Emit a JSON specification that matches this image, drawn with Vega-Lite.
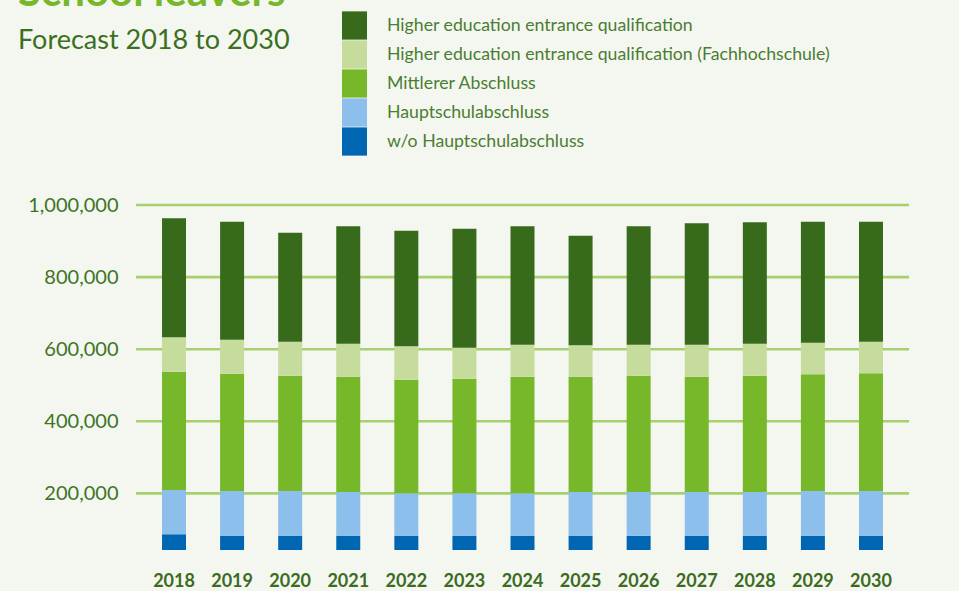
{
  "$schema": "https://vega.github.io/schema/vega-lite/v6.json",
  "autosize": {"type": "none"},
  "width": 773,
  "height": 345,
  "padding": {"left": 136, "top": 205, "right": 50, "bottom": 41},
  "background": "#f4f7ef",
  "config": {"view": {"stroke": null}, "font": "Lato"},
  "title": {
    "text": "School leavers",
    "subtitle": "Forecast 2018 to 2030",
    "anchor": "start",
    "frame": "group",
    "dx": -118,
    "dy": 42,
    "offset": 0,
    "fontSize": 42,
    "fontWeight": "bold",
    "color": "#76b82a",
    "subtitleFontSize": 27,
    "subtitleColor": "#3b6f21",
    "subtitlePadding": 13
  },
  "datasets": {
    "grid": [
      {"tick": 200000}, {"tick": 400000}, {"tick": 600000}, {"tick": 800000}, {"tick": 1000000}
    ],
    "leavers": [
      {"year": "2018", "type": "w/o Hauptschulabschluss", "value": 43500},
      {"year": "2018", "type": "Hauptschulabschluss", "value": 122900},
      {"year": "2018", "type": "Mittlerer Abschluss", "value": 328200},
      {"year": "2018", "type": "Higher education entrance qualification (Fachhochschule)", "value": 95400},
      {"year": "2018", "type": "Higher education entrance qualification", "value": 330100},
      {"year": "2019", "type": "w/o Hauptschulabschluss", "value": 39700},
      {"year": "2019", "type": "Hauptschulabschluss", "value": 124000},
      {"year": "2019", "type": "Mittlerer Abschluss", "value": 325400},
      {"year": "2019", "type": "Higher education entrance qualification (Fachhochschule)", "value": 94300},
      {"year": "2019", "type": "Higher education entrance qualification", "value": 327300},
      {"year": "2020", "type": "w/o Hauptschulabschluss", "value": 39700},
      {"year": "2020", "type": "Hauptschulabschluss", "value": 124000},
      {"year": "2020", "type": "Mittlerer Abschluss", "value": 319800},
      {"year": "2020", "type": "Higher education entrance qualification (Fachhochschule)", "value": 94300},
      {"year": "2020", "type": "Higher education entrance qualification", "value": 302400},
      {"year": "2021", "type": "w/o Hauptschulabschluss", "value": 39700},
      {"year": "2021", "type": "Hauptschulabschluss", "value": 121200},
      {"year": "2021", "type": "Mittlerer Abschluss", "value": 319800},
      {"year": "2021", "type": "Higher education entrance qualification (Fachhochschule)", "value": 91500},
      {"year": "2021", "type": "Higher education entrance qualification", "value": 325700},
      {"year": "2022", "type": "w/o Hauptschulabschluss", "value": 39700},
      {"year": "2022", "type": "Hauptschulabschluss", "value": 117600},
      {"year": "2022", "type": "Mittlerer Abschluss", "value": 315100},
      {"year": "2022", "type": "Higher education entrance qualification (Fachhochschule)", "value": 92600},
      {"year": "2022", "type": "Higher education entrance qualification", "value": 320700},
      {"year": "2023", "type": "w/o Hauptschulabschluss", "value": 39700},
      {"year": "2023", "type": "Hauptschulabschluss", "value": 117600},
      {"year": "2023", "type": "Mittlerer Abschluss", "value": 317900},
      {"year": "2023", "type": "Higher education entrance qualification (Fachhochschule)", "value": 86000},
      {"year": "2023", "type": "Higher education entrance qualification", "value": 330100},
      {"year": "2024", "type": "w/o Hauptschulabschluss", "value": 39700},
      {"year": "2024", "type": "Hauptschulabschluss", "value": 117600},
      {"year": "2024", "type": "Mittlerer Abschluss", "value": 323400},
      {"year": "2024", "type": "Higher education entrance qualification (Fachhochschule)", "value": 88800},
      {"year": "2024", "type": "Higher education entrance qualification", "value": 328400},
      {"year": "2025", "type": "w/o Hauptschulabschluss", "value": 39700},
      {"year": "2025", "type": "Hauptschulabschluss", "value": 121200},
      {"year": "2025", "type": "Mittlerer Abschluss", "value": 319800},
      {"year": "2025", "type": "Higher education entrance qualification (Fachhochschule)", "value": 87100},
      {"year": "2025", "type": "Higher education entrance qualification", "value": 304000},
      {"year": "2026", "type": "w/o Hauptschulabschluss", "value": 39700},
      {"year": "2026", "type": "Hauptschulabschluss", "value": 121200},
      {"year": "2026", "type": "Mittlerer Abschluss", "value": 322600},
      {"year": "2026", "type": "Higher education entrance qualification (Fachhochschule)", "value": 86000},
      {"year": "2026", "type": "Higher education entrance qualification", "value": 328400},
      {"year": "2027", "type": "w/o Hauptschulabschluss", "value": 39700},
      {"year": "2027", "type": "Hauptschulabschluss", "value": 121200},
      {"year": "2027", "type": "Mittlerer Abschluss", "value": 319800},
      {"year": "2027", "type": "Higher education entrance qualification (Fachhochschule)", "value": 88800},
      {"year": "2027", "type": "Higher education entrance qualification", "value": 336800},
      {"year": "2028", "type": "w/o Hauptschulabschluss", "value": 39700},
      {"year": "2028", "type": "Hauptschulabschluss", "value": 121200},
      {"year": "2028", "type": "Mittlerer Abschluss", "value": 322600},
      {"year": "2028", "type": "Higher education entrance qualification (Fachhochschule)", "value": 88800},
      {"year": "2028", "type": "Higher education entrance qualification", "value": 336800},
      {"year": "2029", "type": "w/o Hauptschulabschluss", "value": 39700},
      {"year": "2029", "type": "Hauptschulabschluss", "value": 124000},
      {"year": "2029", "type": "Mittlerer Abschluss", "value": 323700},
      {"year": "2029", "type": "Higher education entrance qualification (Fachhochschule)", "value": 87700},
      {"year": "2029", "type": "Higher education entrance qualification", "value": 335600},
      {"year": "2030", "type": "w/o Hauptschulabschluss", "value": 39700},
      {"year": "2030", "type": "Hauptschulabschluss", "value": 124000},
      {"year": "2030", "type": "Mittlerer Abschluss", "value": 326500},
      {"year": "2030", "type": "Higher education entrance qualification (Fachhochschule)", "value": 87700},
      {"year": "2030", "type": "Higher education entrance qualification", "value": 332900}
    ]
  },
  "layer": [
    {
      "data": {"name": "grid"},
      "mark": {"type": "rule", "color": "#a9d06f", "strokeWidth": 2.6},
      "encoding": {
        "y": {
          "field": "tick",
          "type": "quantitative",
          "scale": {"domain": [43000, 1000000], "nice": false, "zero": false},
          "axis": {
            "orient": "left",
            "title": null,
            "values": [200000, 400000, 600000, 800000, 1000000],
            "format": ",d",
            "domain": false,
            "ticks": false,
            "grid": false,
            "labelPadding": 18,
            "labelFontSize": 20,
            "labelColor": "#3f7426"
          }
        }
      }
    },
    {
      "data": {"name": "leavers"},
      "transform": [
        {"window": [{"op": "row_number", "as": "stackRank"}], "groupby": ["year"]}
      ],
      "mark": {"type": "bar"},
      "encoding": {
        "x": {
          "field": "year",
          "type": "nominal",
          "scale": {"paddingInner": 0.587, "paddingOuter": 0.448},
          "axis": {
            "title": null,
            "labelAngle": 0,
            "domain": false,
            "ticks": false,
            "labelPadding": 22,
            "labelFontSize": 18,
            "labelFontWeight": "bold",
            "labelColor": "#3b6b1f"
          }
        },
        "y": {
          "field": "value",
          "type": "quantitative",
          "stack": "zero",
          "scale": {"domain": [0, 957000], "nice": false},
          "axis": null
        },
        "order": {"field": "stackRank", "type": "quantitative", "sort": "ascending"},
        "color": {
          "field": "type",
          "type": "nominal",
          "sort": ["Higher education entrance qualification", "Higher education entrance qualification (Fachhochschule)", "Mittlerer Abschluss", "Hauptschulabschluss", "w/o Hauptschulabschluss"],
          "scale": {"range": ["#376a1a", "#c6dc9d", "#77b82a", "#8cbfeb", "#0066b2"]},
          "legend": {
            "orient": "none",
            "legendX": 206,
            "legendY": -192,
            "title": null,
            "values": ["Higher education entrance qualification", "Higher education entrance qualification (Fachhochschule)", "Mittlerer Abschluss", "Hauptschulabschluss", "w/o Hauptschulabschluss"],
            "symbolType": "M-1,-1.13H1V1.13H-1Z",
            "symbolSize": 625,
            "symbolStrokeWidth": 0,
            "symbolOpacity": 1,
            "rowPadding": 0,
            "labelOffset": 20,
            "labelFontSize": 17.7,
            "labelColor": "#4b7d33",
            "labelLimit": 600
          }
        }
      }
    }
  ],
  "resolve": {"scale": {"y": "independent"}}
}
